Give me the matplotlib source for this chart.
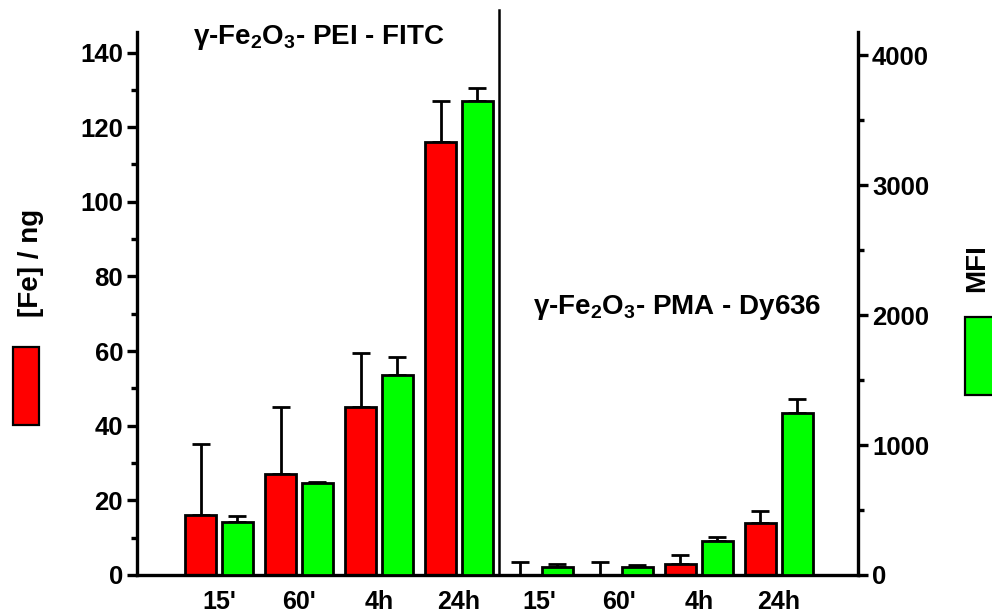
import matplotlib
matplotlib.use("Agg")
import matplotlib.pyplot as plt
import matplotlib.transforms as mtransforms
from matplotlib.patches import Rectangle
import numpy as np

plt.rcParams['font.family'] = ['Liberation Sans', 'DejaVu Sans']
plt.rcParams['font.weight'] = 'bold'
plt.rcParams['mathtext.fontset'] = 'custom'
plt.rcParams['mathtext.rm'] = 'Liberation Sans:bold'
plt.rcParams['mathtext.it'] = 'Liberation Sans:bold'
plt.rcParams['mathtext.bf'] = 'Liberation Sans:bold'

# Time points for each particle type
categories = ["15'", "60'", "4h", "24h"]

# gamma-Fe2O3 - PEI - FITC
fe_pei = [16, 27, 45, 116]
fe_pei_err = [19, 18, 14.6, 11]
mfi_fitc = [410, 710, 1538, 3646]
mfi_fitc_err = [44, 8, 141, 100]

# gamma-Fe2O3 - PMA - Dy636
fe_pma = [0, 0, 2.9, 14.0]
fe_pma_err = [3.6, 3.6, 2.5, 3.2]
mfi_dy = [62, 64, 262, 1244]
mfi_dy_err = [20, 13, 30, 110]

fe_vals = fe_pei + fe_pma
fe_errs = fe_pei_err + fe_pma_err
mfi_vals = mfi_fitc + mfi_dy
mfi_errs = mfi_fitc_err + mfi_dy_err
xlabels = categories + categories

RED = '#ff0000'
GREEN = '#00ff00'
LW = 2.0

fig = plt.figure(figsize=(9.92, 6.16), dpi=100)
ax = fig.add_axes([137 / 992, 1 - 575 / 616, (858 - 137) / 992, (575 - 32) / 616])
ax2 = ax.twinx()

x = np.arange(len(fe_vals))
off = 0.23
w = 0.39

ax.bar(x - off, fe_vals, width=w, color=RED, edgecolor='black', linewidth=LW, zorder=2)
ax.errorbar(x - off, fe_vals, yerr=[np.zeros(len(fe_errs)), fe_errs], fmt='none',
            ecolor='black', elinewidth=LW, capsize=6.5, capthick=LW, zorder=1)
ax2.bar(x + off, mfi_vals, width=w, color=GREEN, edgecolor='black', linewidth=LW, zorder=2)
ax2.errorbar(x + off, mfi_vals, yerr=[np.zeros(len(mfi_errs)), mfi_errs], fmt='none',
             ecolor='black', elinewidth=LW, capsize=6.5, capthick=LW, zorder=1)

ax.set_xlim(-1.025, 7.99)
ax.set_ylim(0, 145.5)
ax2.set_ylim(0, 4177)

ax.set_yticks(np.arange(0, 141, 20))
ax.set_yticks(np.arange(10, 141, 20), minor=True)
ax2.set_yticks(np.arange(0, 4001, 1000))
ax2.set_yticks(np.arange(500, 4001, 1000), minor=True)

ax.set_xticks(x)
ax.set_xticklabels(xlabels)

for a in (ax, ax2):
    for s in a.spines.values():
        s.set_linewidth(2.4)
    a.spines['top'].set_visible(False)

ax.spines['right'].set_visible(False)
ax2.spines['left'].set_visible(False)
ax2.spines['bottom'].set_visible(False)

ax.tick_params(axis='y', which='major', direction='out', length=7.5, width=2.4,
               labelsize=18.5, pad=2.5)
ax.tick_params(axis='y', which='minor', direction='out', length=4, width=2.4)
ax.tick_params(axis='x', length=0, labelsize=18, pad=11)
ax2.tick_params(axis='y', which='major', direction='out', length=7.5, width=2.4,
                labelsize=18.5, pad=2.5)
ax2.tick_params(axis='y', which='minor', direction='out', length=4, width=2.4)

for lab in ax.get_xticklabels() + ax.get_yticklabels() + ax2.get_yticklabels():
    lab.set_fontweight('bold')

# divider between the two particle types
trans = mtransforms.blended_transform_factory(ax.transData, ax.transAxes)
ax.plot([3.5, 3.5], [0, (575 - 10) / 543], transform=trans, color='black',
        linewidth=1.8, clip_on=False, zorder=3)

# panel titles
fig.text(193 / 992, 1 - 37 / 616, r"γ-Fe$_2$O$_3$- PEI - FITC", fontsize=20,
         fontweight='bold', ha='left', va='center')
fig.text(533 / 992, 1 - 307 / 616, r"γ-Fe$_2$O$_3$- PMA - Dy636", fontsize=20,
         fontweight='bold', ha='left', va='center')

# axis labels with colour keys
fig.text(31 / 992, 1 - 263 / 616, "[Fe] / ng", rotation=90, fontsize=20,
         fontweight='bold', ha='center', va='center')
fig.patches.append(Rectangle((13 / 992, 1 - 425 / 616), 26 / 992, 78 / 616,
                             transform=fig.transFigure, facecolor=RED,
                             edgecolor='black', linewidth=1.6))
fig.text(977 / 992, 1 - 268 / 616, "MFI", rotation=90, fontsize=20,
         fontweight='bold', ha='center', va='center')
fig.patches.append(Rectangle((965 / 992, 1 - 395 / 616), 40 / 992, 78 / 616,
                             transform=fig.transFigure, facecolor=GREEN,
                             edgecolor='black', linewidth=1.6))

fig.savefig('out.png', dpi=100)
